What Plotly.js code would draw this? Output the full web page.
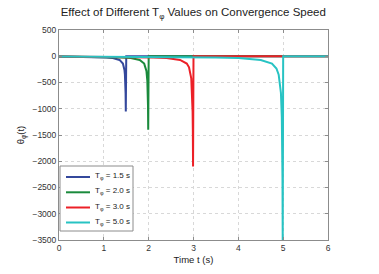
<!DOCTYPE html>
<html><head><meta charset="utf-8">
<script src="https://cdn.plot.ly/plotly-3.0.1.min.js"></script>
<style>html,body{margin:0;padding:0;background:#fff}#chart{width:379px;height:274px}</style>
</head><body><div id="chart"></div>
<script>
// Series (t in seconds, theta values)
const t15 = [0, 0.75, 1.05, 1.2, 1.35, 1.425, 1.45, 1.46, 1.47, 1.48, 1.485, 1.49, 1.5, 6];
const v15 = [-7, -14, -23, -35, -70, -140, -210, -262, -350, -525, -700, -1050, 0, 0];
const t20 = [0, 1, 1.4, 1.6, 1.8, 1.9, 1.95, 1.97, 1.98, 1.985, 1.99, 2, 6];
const v20 = [-7, -14, -23, -35, -70, -140, -280, -467, -700, -933, -1400, 0, 0];
const t30 = [0, 1.5, 2.1, 2.4, 2.7, 2.85, 2.9, 2.95, 2.97, 2.98, 2.985, 2.99, 3, 6];
const v30 = [-7, -14, -23, -35, -70, -140, -210, -420, -700, -1050, -1400, -2100, 0, 0];
const t50 = [0, 2.5, 3.5, 4, 4.5, 4.75, 4.85, 4.9, 4.95, 4.97, 4.98, 4.985, 4.99, 5, 6];
const v50 = [-7, -14, -23, -35, -70, -140, -233, -350, -700, -1167, -1750, -2333, -3500, 0, 0];
const names = ['T<sub>φ</sub> = 1.5 s', 'T<sub>φ</sub> = 2.0 s', 'T<sub>φ</sub> = 3.0 s', 'T<sub>φ</sub> = 5.0 s'];
const colors = ['#34489c', '#1a8a3c', '#ec2027', '#27c3c3'];
const xs = [t15, t20, t30, t50], ys = [v15, v20, v30, v50];
const xTicks = [0, 1, 2, 3, 4, 5, 6];
const yTicks = [-3500, -3000, -2500, -2000, -1500, -1000, -500, 0, 500];

const W = 379, H = 274, M = {l: 59, r: 51, t: 30, b: 34};
const pw = W - M.l - M.r, ph = H - M.t - M.b;
const px = v => (v - M.l) / pw;           // pixel x -> paper
const py = v => (H - M.b - v) / ph;       // pixel y -> paper

const data = xs.map((x, i) => ({
  x: x, y: ys[i], type: 'scatter', mode: 'lines', name: names[i],
  line: {color: colors[i], width: 2}
}));

// legend box drawn as shapes + annotations (paper coords)
const shapes = [{type: 'rect', xref: 'paper', yref: 'paper', x0: px(60), x1: px(133), y0: py(231), y1: py(166),
  line: {color: '#8c8c8c', width: 1}, fillcolor: '#fff', layer: 'above'}];
const annotations = [];
const rowY = [177, 192.3, 207.5, 222.5];
names.forEach((n, i) => {
  shapes.push({type: 'line', xref: 'paper', yref: 'paper', x0: px(66), x1: px(90), y0: py(rowY[i]), y1: py(rowY[i]),
    line: {color: colors[i], width: 2}, layer: 'above'});
  annotations.push({xref: 'paper', yref: 'paper', x: px(93), y: py(rowY[i] - 1), xanchor: 'left', yanchor: 'middle',
    text: n, showarrow: false, font: {size: 8, color: '#222'}});
});

const axCommon = {
  showline: true, linecolor: '#8c8c8c', linewidth: 1, mirror: 'ticks',
  ticks: 'inside', ticklen: 3, tickcolor: '#8c8c8c',
  showgrid: true, gridcolor: '#d8d8d8', griddash: 'dot', gridwidth: 1,
  zeroline: false, tickfont: {size: 8.5, color: '#333'}
};
const layout = {
  width: W, height: H, margin: M,
  paper_bgcolor: '#fff', plot_bgcolor: '#fff',
  font: {family: 'Liberation Sans, Arial, sans-serif', color: '#222'},
  title: {text: 'Effect of Different T<sub>φ</sub> Values on Convergence Speed',
          font: {size: 11.5, color: '#222'}, x: 0.51, xanchor: 'center', y: 0.955, yanchor: 'middle'},
  xaxis: Object.assign({}, axCommon, {range: [0, 6], tickvals: xTicks,
          title: {text: 'Time t (s)', font: {size: 9.5}, standoff: 4}}),
  yaxis: Object.assign({}, axCommon, {range: [-3500, 500], tickvals: yTicks,
          tickformat: 'd', title: {text: 'θ<sub>φ</sub>(t)', font: {size: 9.5}, standoff: 6}}),
  showlegend: false, shapes: shapes, annotations: annotations
};
Plotly.newPlot('chart', data, layout, {displayModeBar: false, staticPlot: true});
</script></body></html>
